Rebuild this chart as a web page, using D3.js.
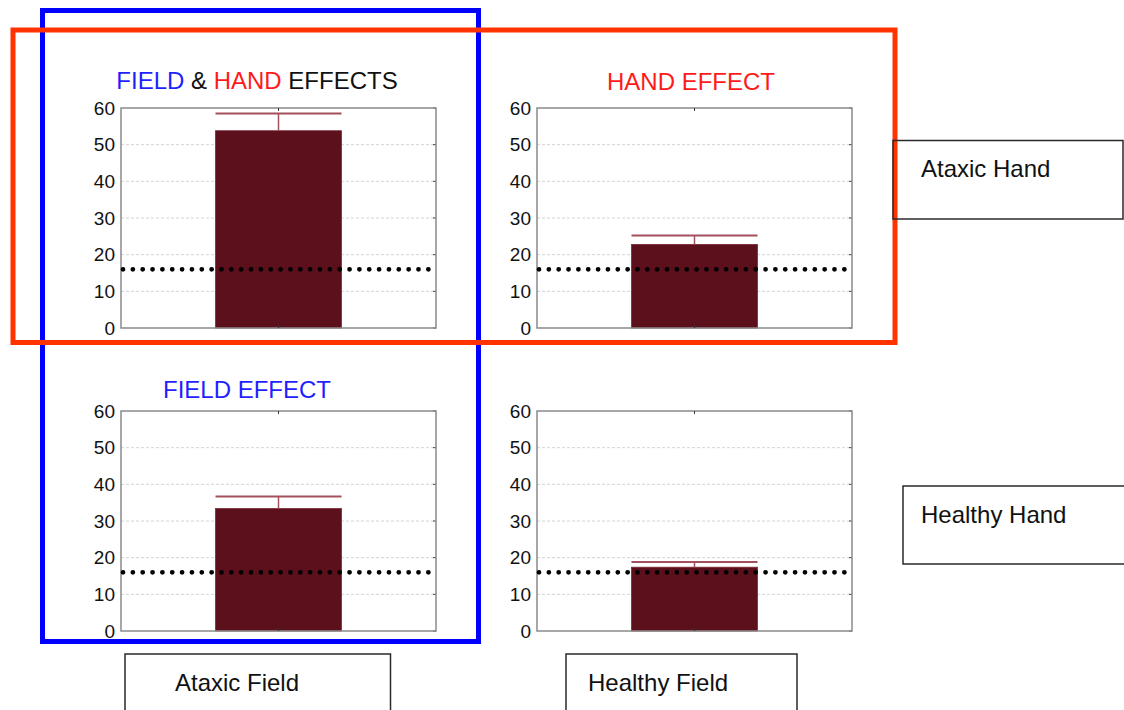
<!DOCTYPE html>
<html>
<head>
<meta charset="utf-8">
<script src="https://cdn.jsdelivr.net/npm/d3@7"></script>
<style>
  body { margin: 0; background: #fff; }
  svg { display: block; font-family: "Liberation Sans", Arial, sans-serif; }
</style>
</head>
<body>
<svg id="chart" width="1124" height="710"></svg>
<script>
// values, panel order: top-left, top-right, bottom-left, bottom-right
var handLabels = ["Ataxic Hand", "Healthy Hand"];
var fieldLabels = ["Ataxic Field", "Healthy Field"];
var meanValues = [53.8, 22.8, 33.4, 17.4];
var upperValues = [58.5, 25.2, 36.7, 18.8];
var chanceLevel = 16;
var yTicks = [0, 10, 20, 30, 40, 50, 60];

const svg = d3.select("#chart");

//Set size of each small plot
const plotW = 315;
const plotH = 220;
const colX = [121, 537];
const rowY = [108, 411];

const y = d3.scaleLinear().domain([0, 60]).range([plotH, 0]);
const x = d3.scaleLinear().domain([0, 2]).range([0, plotW]);
const barWidth = 0.8;

const panels = meanValues.map((v, i) => ({
  row: Math.floor(i / 2),
  col: i % 2,
  mean: v,
  upper: upperValues[i],
}));

const g = svg
  .selectAll("g.panel")
  .data(panels)
  .enter()
  .append("g")
  .attr("class", "panel")
  .attr("transform", (d) => `translate(${colX[d.col]}, ${rowY[d.row]})`);

// dashed grid
g.selectAll(".grid")
  .data(yTicks.filter((t) => t > 0 && t < 60))
  .enter()
  .append("line")
  .attr("x1", 0)
  .attr("x2", plotW)
  .attr("y1", (t) => y(t))
  .attr("y2", (t) => y(t))
  .attr("stroke", "#d4d4d4")
  .attr("stroke-width", 1)
  .attr("stroke-dasharray", "3,2");

// small ticks on the right side, inside
g.selectAll(".rtick")
  .data(yTicks)
  .enter()
  .append("line")
  .attr("x1", plotW - 3)
  .attr("x2", plotW)
  .attr("y1", (t) => y(t))
  .attr("y2", (t) => y(t))
  .attr("stroke", "#444");

// bars
g.append("rect")
  .attr("x", x(1 - barWidth / 2))
  .attr("width", x(barWidth))
  .attr("y", (d) => y(d.mean))
  .attr("height", (d) => plotH - y(d.mean))
  .attr("fill", "#5b101c")
  .attr("stroke", "#7a2a35")
  .attr("stroke-width", 0.8);

// error bars
g.append("line")
  .attr("x1", x(1))
  .attr("x2", x(1))
  .attr("y1", (d) => y(d.mean))
  .attr("y2", (d) => y(d.upper))
  .attr("stroke", "#a4505c")
  .attr("stroke-width", 1.5);
g.append("line")
  .attr("x1", x(1 - barWidth / 2))
  .attr("x2", x(1 + barWidth / 2))
  .attr("y1", (d) => y(d.upper))
  .attr("y2", (d) => y(d.upper))
  .attr("stroke", "#a4505c")
  .attr("stroke-width", 2);

// frame
g.append("rect")
  .attr("width", plotW)
  .attr("height", plotH)
  .attr("fill", "none")
  .attr("stroke", "#8a8a8a")
  .attr("stroke-width", 1.5);

// x tick at the bar center (top and bottom)
g.append("line")
  .attr("x1", x(1)).attr("x2", x(1))
  .attr("y1", 0).attr("y2", 3)
  .attr("stroke", "#333");
g.append("line")
  .attr("x1", x(1)).attr("x2", x(1))
  .attr("y1", plotH).attr("y2", plotH - 3)
  .attr("stroke", "#333");

// chance level dotted line
g.append("line")
  .attr("x1", x(0) + 2)
  .attr("x2", plotW)
  .attr("y1", y(chanceLevel))
  .attr("y2", y(chanceLevel))
  .attr("stroke", "#000")
  .attr("stroke-width", 4.8)
  .attr("stroke-linecap", "round")
  .attr("stroke-dasharray", "0,9.85");

// y axis labels
const yAxis = d3.axisLeft(y).tickValues(yTicks).tickSize(0).tickPadding(6);
g.append("g")
  .call(yAxis)
  .call((a) => a.select(".domain").remove())
  .selectAll("text")
  .attr("font-size", 19)
  .attr("font-family", "Liberation Sans, Arial, sans-serif")
  .attr("fill", "#111");

// titles
function title(xc, yb, parts) {
  const t = svg
    .append("text")
    .attr("x", xc)
    .attr("y", yb)
    .attr("text-anchor", "middle")
    .attr("font-size", 24);
  parts.forEach((p) => t.append("tspan").attr("fill", p[1]).text(p[0]));
}
title(257, 89, [["FIELD", "#1f1fff"], [" & ", "#111"], ["HAND", "#ff1a1a"], [" EFFECTS", "#111"]]);
title(691, 90, [["HAND EFFECT", "#ff1a1a"]]);
title(247, 398, [["FIELD EFFECT", "#1f1fff"]]);

// highlight frames
svg.append("rect")
  .attr("x", 42.5).attr("y", 10.5)
  .attr("width", 436).attr("height", 631)
  .attr("fill", "none")
  .attr("stroke", "#0000ff")
  .attr("stroke-width", 5);
svg.append("rect")
  .attr("x", 13).attr("y", 30)
  .attr("width", 882).attr("height", 312.5)
  .attr("fill", "none")
  .attr("stroke", "#ff3300")
  .attr("stroke-width", 5);

// condition label boxes
const labelBoxes = [
  { text: handLabels[0], x: 893, y: 140.5, w: 230, h: 78.5, tx: 921, ty: 177 },
  { text: handLabels[1], x: 903, y: 486, w: 222, h: 78, tx: 921, ty: 523 },
  { text: fieldLabels[0], x: 125, y: 654, w: 265.5, h: 70, tx: 175, ty: 691 },
  { text: fieldLabels[1], x: 566, y: 654, w: 231, h: 70, tx: 588, ty: 691 },
];
const lb = svg.selectAll("g.lbl").data(labelBoxes).enter().append("g").attr("class", "lbl");
lb.append("rect")
  .attr("x", (d) => d.x)
  .attr("y", (d) => d.y)
  .attr("width", (d) => d.w)
  .attr("height", (d) => d.h)
  .attr("fill", "none")
  .attr("stroke", "#2a2a2a")
  .attr("stroke-width", 1.5);
lb.append("text")
  .attr("x", (d) => d.tx)
  .attr("y", (d) => d.ty)
  .attr("font-size", 24)
  .attr("fill", "#111")
  .text((d) => d.text);
</script>
</body>
</html>
